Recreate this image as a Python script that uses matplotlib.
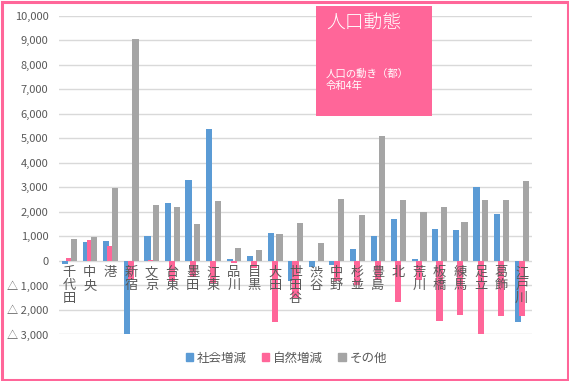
import matplotlib
matplotlib.use("Agg")
import matplotlib.pyplot as plt
from matplotlib.patches import Rectangle, Patch
import numpy as np

plt.rcParams['font.family'] = ['Noto Sans CJK JP', 'DejaVu Sans']

categories = ["千代田", "中央", "港", "新宿", "文京", "台東", "墨田", "江東", "品川", "目黒",
              "大田", "世田谷", "渋谷", "中野", "杉並", "豊島", "北", "荒川", "板橋", "練馬",
              "足立", "葛飾", "江戸川"]
social = [-150, 775, 816, -3020, 1020, 2367, 3306, 5388, 80, 200,
          1143, -816, -270, -190, 460, 990, 1690, 55, 1280, 1238,
          3020, 1918, -2503]
natural = [120, 857, 585, -775, 40, -840, -680, -910, -110, -300,
           -2517, -1520, -20, -820, -1000, -775, -1673, -775, -2476, -2231,
           -3007, -2272, -2272]
other = [900, 980, 2980, 9050, 2285, 2204, 1510, 2449, 530, 450,
         1100, 1550, 735, 2530, 1880, 5075, 2463, 1973, 2204, 1565,
         2463, 2463, 3238]
series_names = ["社会増減", "自然増減", "その他"]
ytick_values = [-3000, -2000, -1000, 0, 1000, 2000, 3000, 4000, 5000, 6000, 7000, 8000, 9000, 10000]
ytick_labels = ["△ 3,000", "△ 2,000", "△ 1,000", "0", "1,000", "2,000", "3,000", "4,000",
                "5,000", "6,000", "7,000", "8,000", "9,000", "10,000"]
title = "人口動態"
subtitle = "人口の動き（都）\n令和4年"

BLUE = "#5B9BD5"
PINK = "#FF6699"
GREY = "#A5A5A5"
TXT = "#595959"

W, H = 569, 381
fig = plt.figure(figsize=(W / 100, H / 100), dpi=100)
fig.patch.set_facecolor("white")

ax = fig.add_axes([59 / W, 1 - 334 / H, (532 - 59) / W, (334 - 16) / H])
x = np.arange(len(categories))
bw = 0.30
ax.bar(x - 0.20, social, width=bw, color=BLUE, zorder=2)
ax.bar(x + 0.00, natural, width=bw, color=PINK, zorder=3)
ax.bar(x + 0.22, other, width=bw, color=GREY, zorder=4)

ax.set_xlim(-0.5, len(categories) - 0.5)
ax.set_ylim(-3000, 10000)
ax.set_yticks(ytick_values)
ax.set_yticklabels(ytick_labels, fontsize=8, color=TXT)
ax.set_xticks([])
ax.grid(axis='y', color='#D9D9D9', linewidth=1.0, zorder=0)
ax.set_axisbelow(True)
for s in ax.spines.values():
    s.set_visible(False)
ax.tick_params(axis='y', length=0, pad=7.5)

for i, c in enumerate(categories):
    ax.annotate("\n".join(c), xy=(i, 0), xytext=(0, -4), textcoords='offset points',
                ha='center', va='top', fontsize=9.5, color=TXT, linespacing=1.0,
                zorder=6)

# title box
fig.patches.append(Rectangle((316 / W, 1 - 116 / H), 116 / W, 110 / H,
                             transform=fig.transFigure, facecolor=PINK,
                             edgecolor='none', zorder=5))
fig.text(326 / W, 1 - 24 / H, title, fontsize=13.5, color='white', ha='left',
         va='center', zorder=6, fontweight='light')
fig.text(326 / W, 1 - 80 / H, subtitle, fontsize=7.5, color='white', ha='left',
         va='center', zorder=6, linespacing=1.25)

# legend
handles = [Patch(color=BLUE), Patch(color=PINK), Patch(color=GREY)]
fig.legend(handles, series_names, loc='center', bbox_to_anchor=(0.503, 1 - 358 / H),
           ncol=3, frameon=False, fontsize=9, handlelength=0.6, handleheight=0.6,
           handletextpad=0.3, columnspacing=1.2, labelcolor=TXT)

# border
fig.patches.append(Rectangle((1.5 / W, 1.5 / H), 1 - 3 / W, 1 - 3 / H,
                             transform=fig.transFigure, fill=False,
                             edgecolor=PINK, linewidth=2.2, zorder=10))

fig.savefig("out.png", dpi=100)
